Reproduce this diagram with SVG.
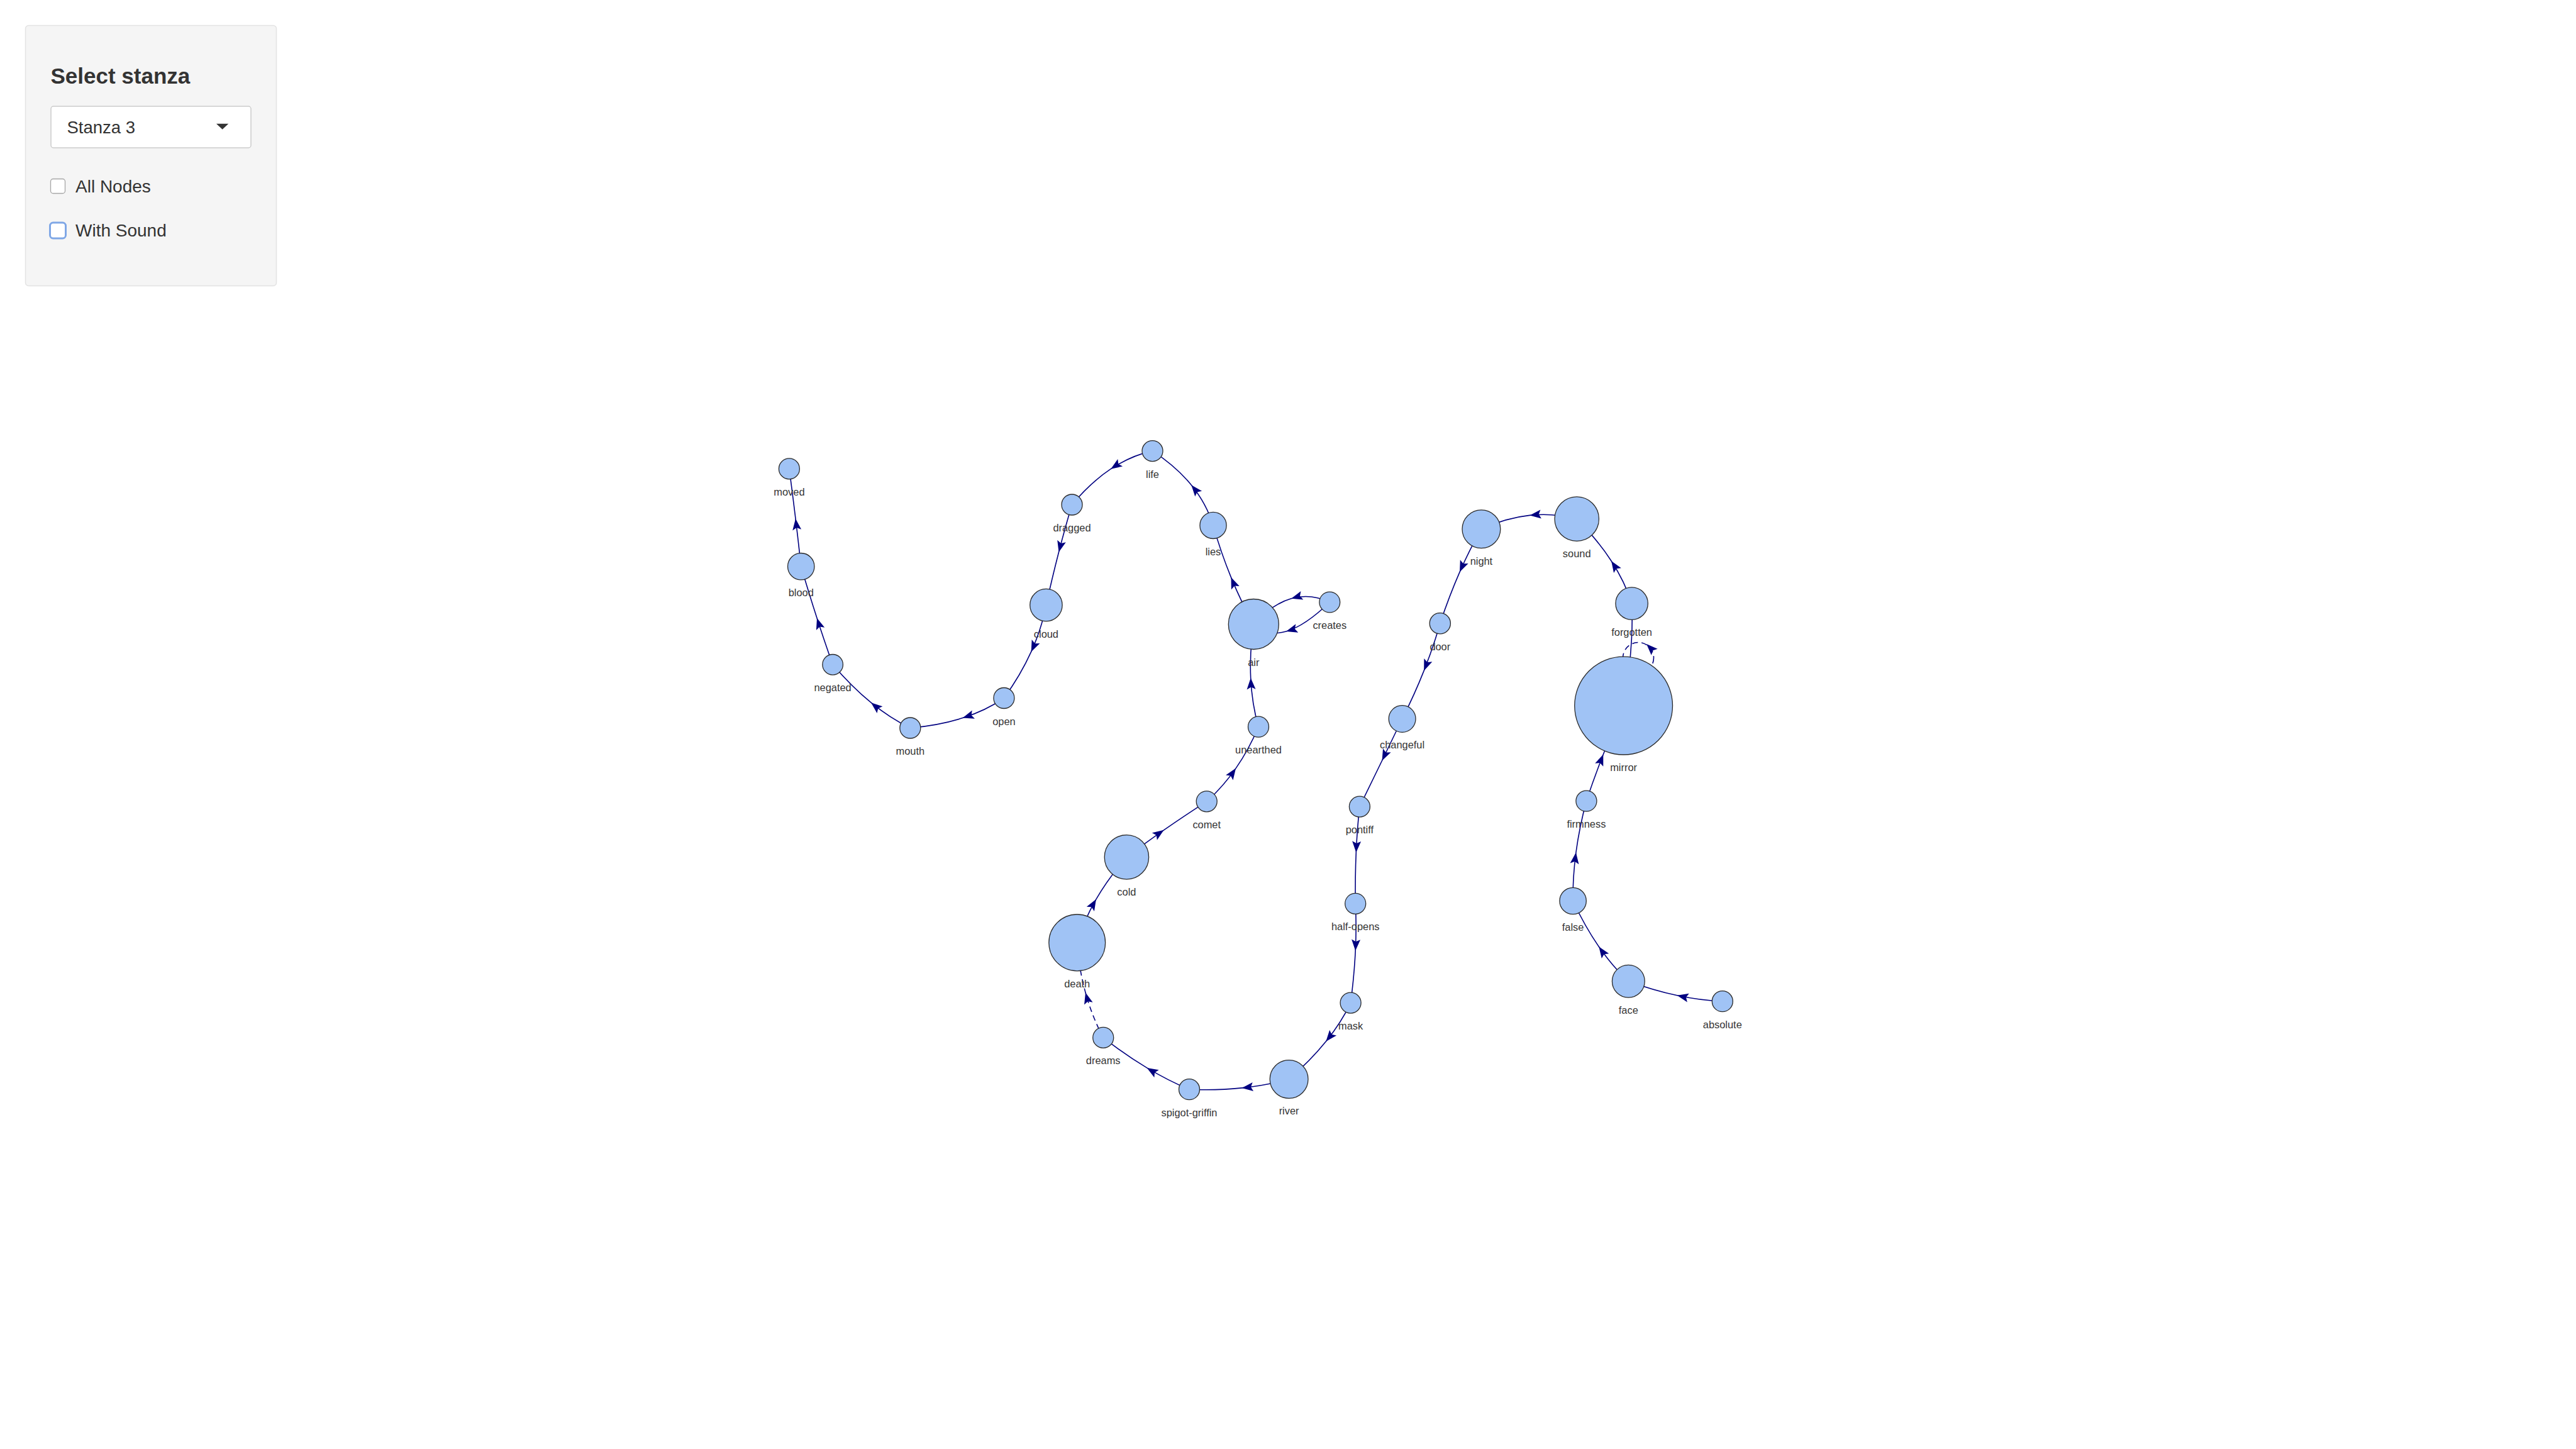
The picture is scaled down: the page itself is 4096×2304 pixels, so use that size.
<svg xmlns="http://www.w3.org/2000/svg" width="4096" height="2304" viewBox="0 0 4096 2304">
<style>
  .ui { font-family: "Liberation Sans", Arial, sans-serif; fill: #333333; }
  .edge { fill: none; stroke: #000080; stroke-width: 1.6; marker-mid: url(#arr); }
  .edge.plain { marker-mid: none; }
  .dash { stroke-dasharray: 9 6; }
  .node circle { fill: #a0c3f5; stroke: #2b2b2b; stroke-width: 1.3; }
  .node text { font-family: "Liberation Sans", Arial, sans-serif; font-size: 16.4px; fill: #343434; text-anchor: middle; }
</style>
<defs>
  <marker id="arr" markerUnits="userSpaceOnUse" viewBox="-20 -10 22 20" markerWidth="22" markerHeight="20" refX="0" refY="0" orient="auto">
    <path d="M0,0 L-18,-7 L-14.5,0 L-18,7 Z" fill="#000080"/>
  </marker>
</defs>
<rect width="4096" height="2304" fill="#ffffff"/>

<g id="panel">
  <rect x="40.5" y="40.5" width="399" height="414" rx="5" fill="#f5f5f5" stroke="#e3e3e3" stroke-width="1.5"/>
  <text class="ui" x="80.5" y="132.5" font-size="35" font-weight="bold">Select stanza</text>
  <rect x="81" y="169" width="318" height="66" rx="4" fill="#ffffff" stroke="#cccccc" stroke-width="1.5"/>
  <text class="ui" x="106.5" y="212.3" font-size="27.5">Stanza 3</text>
  <path d="M344,196.7 L363.3,196.7 L353.6,205.8 Z" fill="#333333"/>
  <rect x="80.5" y="284.5" width="23" height="23" rx="4" fill="#ffffff" stroke="#a6a6a6" stroke-width="1.3"/>
  <text class="ui" x="120" y="306" font-size="28">All Nodes</text>
  <rect x="79.5" y="354" width="25" height="25" rx="5" fill="#ffffff" stroke="#7fa7e6" stroke-width="3"/>
  <text class="ui" x="120" y="376" font-size="28">With Sound</text>
</g>

<g id="edges">
  <path class="edge" d="M1273.7,900.7 Q1269.7,863.5 1265.0,824.7 Q1260.3,785.9 1254.9,745.4"/>
  <path class="edge" d="M1324.1,1056.8 Q1311.6,1021.8 1299.0,982.8 Q1286.4,943.8 1273.7,900.7"/>
  <path class="edge" d="M1447.3,1157.5 Q1415.8,1142.4 1385.0,1117.2 Q1354.2,1092.0 1324.1,1056.8"/>
  <path class="edge" d="M1596.4,1110 Q1568.0,1129.7 1530.7,1141.6 Q1493.4,1153.5 1447.3,1157.5"/>
  <path class="edge" d="M1663.4,962.1 Q1656.4,999.4 1639.6,1036.4 Q1622.9,1073.4 1596.4,1110"/>
  <path class="edge" d="M1704.5,802.5 Q1693.8,838.1 1683.5,878.0 Q1673.2,917.9 1663.4,962.1"/>
  <path class="edge" d="M1832.5,717.1 Q1798.2,724.4 1766.2,745.7 Q1734.2,767.1 1704.5,802.5"/>
  <path class="edge" d="M1929,835.4 Q1918.4,800.8 1894.3,771.2 Q1870.2,741.6 1832.5,717.1"/>
  <path class="edge" d="M1993.3,992.5 Q1973.6,957.4 1957.5,918.1 Q1941.4,878.8 1929,835.4"/>
  <path class="edge" d="M2114.3,957.5 Q2083.35,943.05 2053.1,951.8 Q2022.85,960.55 1993.3,992.5"/>
  <path class="edge" d="M2114.3,957.5 Q2075.25,995.25 2045,1004 Q2014.75,1012.75 1993.3,992.5"/>
  <path class="edge" d="M2001,1155.7 Q1990.6,1118.9 1988.7,1078.1 Q1986.8,1037.3 1993.3,992.5"/>
  <path class="edge" d="M1918.7,1274.3 Q1944.5,1251.3 1965.1,1221.6 Q1985.7,1192.0 2001,1155.7"/>
  <path class="edge" d="M1791.4,1362.9 Q1818.8,1342.0 1850.6,1319.8 Q1882.4,1297.7 1918.7,1274.3"/>
  <path class="edge" d="M1712.7,1498.9 Q1723.2,1463.8 1742.9,1429.8 Q1762.6,1395.8 1791.4,1362.9"/>
  <path class="edge dash" d="M1754.2,1649.9 Q1736.4,1616.1 1726.0,1578.3 Q1715.6,1540.6 1712.7,1498.9"/>
  <path class="edge" d="M1891,1732.2 Q1857.8,1718.5 1823.6,1697.9 Q1789.4,1677.3 1754.2,1649.9"/>
  <path class="edge" d="M2049.6,1716 Q2014.2,1725.9 1974.5,1729.9 Q1934.9,1734.0 1891,1732.2"/>
  <path class="edge" d="M2147.6,1594.6 Q2132.8,1625.8 2108.3,1656.1 Q2083.8,1686.5 2049.6,1716"/>
  <path class="edge" d="M2155.2,1436.8 Q2157.1,1472.4 2155.2,1511.8 Q2153.3,1551.3 2147.6,1594.6"/>
  <path class="edge" d="M2161.9,1282.6 Q2158.0,1317.1 2156.3,1355.6 Q2154.6,1394.2 2155.2,1436.8"/>
  <path class="edge" d="M2229.6,1143 Q2214.4,1174.6 2197.5,1209.5 Q2180.6,1244.4 2161.9,1282.6"/>
  <path class="edge" d="M2289.8,991.2 Q2279.3,1028.5 2264.2,1066.4 Q2249.2,1104.4 2229.6,1143"/>
  <path class="edge" d="M2355.4,841.3 Q2337.4,872.1 2321.0,909.6 Q2304.6,947.1 2289.8,991.2"/>
  <path class="edge" d="M2507.2,825.1 Q2470.3,815.4 2432.3,819.4 Q2394.4,823.5 2355.4,841.3"/>
  <path class="edge" d="M2594.6,959.6 Q2584.0,925.6 2562.1,892.0 Q2540.3,858.4 2507.2,825.1"/>
  <path class="edge plain" d="M2581.6,1122.1 Q2598,1030 2594.6,959.6"/>
  <circle class="dash" cx="2605" cy="1046" r="24.5" fill="none" stroke="#000080" stroke-width="1.6"/>
  <path d="M0,0 L-18,-7 L-14.5,0 L-18,7 Z" fill="#000080" transform="translate(2618,1024) rotate(-135)"/>
  <path class="edge" d="M2522.4,1273.7 Q2534.5,1237.4 2549.3,1199.5 Q2564.1,1161.6 2581.6,1122.1"/>
  <path class="edge" d="M2501.1,1432.5 Q2500.6,1395.2 2505.9,1355.5 Q2511.2,1315.8 2522.4,1273.7"/>
  <path class="edge" d="M2589.3,1560.2 Q2564.35,1537.2 2542.3,1505.3 Q2520.25,1473.4 2501.1,1432.5"/>
  <path class="edge" d="M2738.8,1592.2 Q2704.1,1590.8 2666.7,1582.8 Q2629.3,1574.8 2589.3,1560.2"/>
</g>

<g id="node-moved" class="node"><circle cx="1254.9" cy="745.4" r="16.5"/><text x="1254.9" y="787.9">moved</text></g>
<g id="node-blood" class="node"><circle cx="1273.7" cy="900.7" r="21.2"/><text x="1273.7" y="947.9">blood</text></g>
<g id="node-negated" class="node"><circle cx="1324.1" cy="1056.8" r="16.3"/><text x="1324.1" y="1099.1">negated</text></g>
<g id="node-mouth" class="node"><circle cx="1447.3" cy="1157.5" r="16.5"/><text x="1447.3" y="1200">mouth</text></g>
<g id="node-open" class="node"><circle cx="1596.4" cy="1110" r="16.5"/><text x="1596.4" y="1152.5">open</text></g>
<g id="node-cloud" class="node"><circle cx="1663.4" cy="962.1" r="25.7"/><text x="1663.4" y="1013.8">cloud</text></g>
<g id="node-dragged" class="node"><circle cx="1704.5" cy="802.5" r="16.5"/><text x="1704.5" y="845">dragged</text></g>
<g id="node-life" class="node"><circle cx="1832.5" cy="717.1" r="16.5"/><text x="1832.5" y="759.6">life</text></g>
<g id="node-lies" class="node"><circle cx="1929" cy="835.4" r="21.1"/><text x="1929" y="882.5">lies</text></g>
<g id="node-air" class="node"><circle cx="1993.3" cy="992.5" r="40"/><text x="1993.3" y="1058.5">air</text></g>
<g id="node-creates" class="node"><circle cx="2114.3" cy="957.5" r="16.4"/><text x="2114.3" y="999.9">creates</text></g>
<g id="node-unearthed" class="node"><circle cx="2001" cy="1155.7" r="16.5"/><text x="2001" y="1198.2">unearthed</text></g>
<g id="node-comet" class="node"><circle cx="1918.7" cy="1274.3" r="16.5"/><text x="1918.7" y="1316.8">comet</text></g>
<g id="node-cold" class="node"><circle cx="1791.4" cy="1362.9" r="35.2"/><text x="1791.4" y="1424.1">cold</text></g>
<g id="node-death" class="node"><circle cx="1712.7" cy="1498.9" r="44.9"/><text x="1712.7" y="1569.8">death</text></g>
<g id="node-dreams" class="node"><circle cx="1754.2" cy="1649.9" r="16.5"/><text x="1754.2" y="1692.4">dreams</text></g>
<g id="node-spigot-griffin" class="node"><circle cx="1891" cy="1732.2" r="16.5"/><text x="1891" y="1774.7">spigot-griffin</text></g>
<g id="node-river" class="node"><circle cx="2049.6" cy="1716" r="30.4"/><text x="2049.6" y="1772.4">river</text></g>
<g id="node-mask" class="node"><circle cx="2147.6" cy="1594.6" r="16.5"/><text x="2147.6" y="1637.1">mask</text></g>
<g id="node-half-opens" class="node"><circle cx="2155.2" cy="1436.8" r="16.5"/><text x="2155.2" y="1479.3">half-opens</text></g>
<g id="node-pontiff" class="node"><circle cx="2161.9" cy="1282.6" r="16.5"/><text x="2161.9" y="1325.1">pontiff</text></g>
<g id="node-changeful" class="node"><circle cx="2229.6" cy="1143" r="21.4"/><text x="2229.6" y="1190.4">changeful</text></g>
<g id="node-door" class="node"><circle cx="2289.8" cy="991.2" r="16.6"/><text x="2289.8" y="1033.8">door</text></g>
<g id="node-night" class="node"><circle cx="2355.4" cy="841.3" r="30.4"/><text x="2355.4" y="897.7">night</text></g>
<g id="node-sound" class="node"><circle cx="2507.2" cy="825.1" r="35.2"/><text x="2507.2" y="886.3">sound</text></g>
<g id="node-forgotten" class="node"><circle cx="2594.6" cy="959.6" r="25.7"/><text x="2594.6" y="1011.3">forgotten</text></g>
<g id="node-mirror" class="node"><circle cx="2581.6" cy="1122.1" r="77.9"/><text x="2581.6" y="1226">mirror</text></g>
<g id="node-firmness" class="node"><circle cx="2522.4" cy="1273.7" r="16.5"/><text x="2522.4" y="1316.2">firmness</text></g>
<g id="node-false" class="node"><circle cx="2501.1" cy="1432.5" r="21.2"/><text x="2501.1" y="1479.7">false</text></g>
<g id="node-face" class="node"><circle cx="2589.3" cy="1560.2" r="25.9"/><text x="2589.3" y="1612.1">face</text></g>
<g id="node-absolute" class="node"><circle cx="2738.8" cy="1592.2" r="16.5"/><text x="2738.8" y="1634.7">absolute</text></g>
</svg>
